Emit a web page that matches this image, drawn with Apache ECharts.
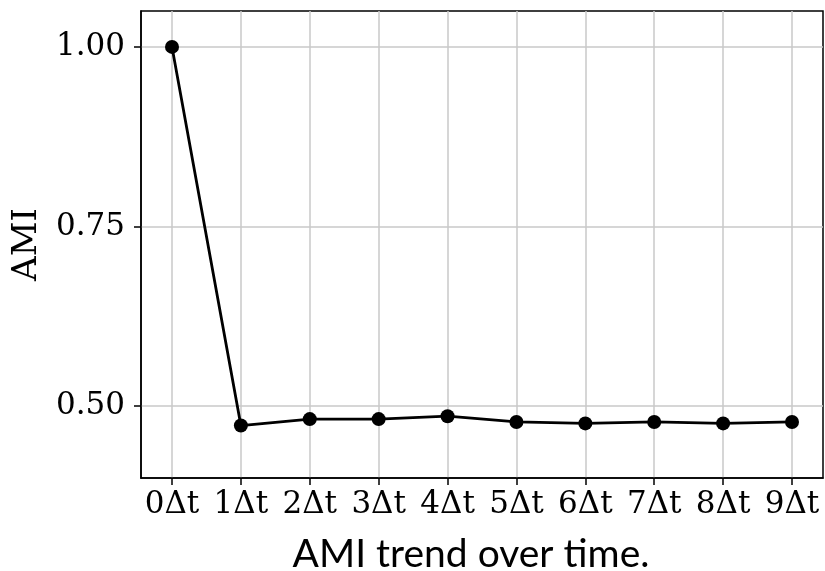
<!DOCTYPE html>
<html>
<head>
<meta charset="utf-8">
<script src="https://cdn.jsdelivr.net/npm/echarts@6/dist/echarts.min.js"></script>
<style>html,body{margin:0;padding:0;background:#fff;}#c{width:825px;height:571px;}</style>
</head>
<body>
<div id="c"></div>
<script>
var steps = [0, 1, 2, 3, 4, 5, 6, 7, 8, 9];
var amiValues = [1.000, 0.473, 0.482, 0.482, 0.486, 0.478, 0.476, 0.478, 0.476, 0.478];
var yTicks = [0.50, 0.75, 1.00];
var xTickSuffix = 'Δt';

var chart = echarts.init(document.getElementById('c'), null, {renderer: 'canvas'});
var data = steps.map(function (s, i) { return [s, amiValues[i]]; });
var serif = 'DejaVu Serif';
chart.setOption({
  animation: false,
  backgroundColor: '#ffffff',
  grid: {left: 141, right: 2, top: 11, bottom: 93, show: true, borderColor: '#000', borderWidth: 1.5,
    backgroundColor: 'transparent', containLabel: false, outerBoundsMode: 'none'},
  xAxis: {
    type: 'value', min: -0.45, max: 9.45,
    name: 'AMI trend over time.', nameLocation: 'middle', nameGap: 57,
    nameTextStyle: {fontFamily: 'Lato', fontSize: 39, color: '#000', padding: [0, 22, 0, 0]},
    axisLine: {show: true, onZero: false, lineStyle: {color: '#000', width: 1.5}},
    axisTick: {show: true, customValues: steps, length: 7, lineStyle: {color: '#000', width: 1.5}},
    axisLabel: {customValues: steps, margin: 11, fontFamily: serif, fontSize: 31, color: '#000',
      formatter: function (v) { return v + xTickSuffix; }},
    splitLine: {show: true, lineStyle: {color: '#c8c8c8', width: 1.5}}
  },
  yAxis: {
    type: 'value', min: 0.4, max: 1.05,
    name: 'AMI', nameLocation: 'middle', nameGap: 97,
    nameTextStyle: {fontFamily: serif, fontSize: 34, color: '#000'},
    axisLine: {show: true, onZero: false, lineStyle: {color: '#000', width: 1.5}},
    axisTick: {show: true, customValues: yTicks, length: 7, lineStyle: {color: '#000', width: 1.5}},
    axisLabel: {customValues: yTicks, margin: 16, fontFamily: serif, fontSize: 31, color: '#000',
      formatter: function (v) { return v.toFixed(2); }},
    splitLine: {show: true, lineStyle: {color: '#c8c8c8', width: 1.5}}
  },
  series: [{
    type: 'line', data: data, symbol: 'circle', symbolSize: 14,
    lineStyle: {color: '#000', width: 2.8}, itemStyle: {color: '#000'}
  }]
});
</script>
</body>
</html>
